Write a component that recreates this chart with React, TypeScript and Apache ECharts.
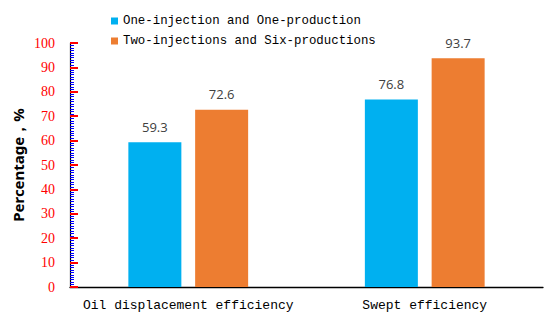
import React, { useEffect, useRef } from "react";
import * as echarts from "echarts";

const categories = ["Oil displacement efficiency", "Swept efficiency"];
const seriesNames = ["One-injection and One-production", "Two-injections and Six-productions"];
const oneInjection = [59.3, 76.8];
const twoInjections = [72.6, 93.7];
const colors = ["#00B0F0", "#ED7D31"];
const yTitle = "Percentage，%";

const MONO = "Liberation Mono";
const SERIF = "Liberation Serif";
const SANS = "Open Sans";

export default function App() {
  const ref = useRef<HTMLDivElement>(null);
  useEffect(() => {
    if (!ref.current) return;
    const chart = echarts.init(ref.current, null, { renderer: "svg" });
    const labelStyle = {
      show: true,
      position: "top" as const,
      distance: 9,
      color: "#404040",
      fontFamily: SANS,
      fontSize: 13,
    };
    chart.setOption({
      animation: false,
      legend: {
        orient: "vertical",
        left: 106,
        top: 9,
        itemWidth: 7,
        itemHeight: 7,
        itemGap: 6,
        icon: "rect",
        textStyle: {
          fontFamily: MONO,
          fontSize: 12.4,
          color: "#000",
          lineHeight: 14,
        },
        data: seriesNames,
      },
      grid: { left: 70, right: 7, top: 43, bottom: 35 },
      graphic: [
        {
          type: "text",
          x: 18,
          y: 165,
          rotation: Math.PI / 2,
          style: {
            text: yTitle,
            fill: "#000",
            fontSize: 15,
            fontWeight: "bold",
            fontFamily: "Noto Sans",
            align: "center",
            verticalAlign: "middle",
          },
        },
      ],
      xAxis: {
        type: "category",
        data: categories,
        axisLine: { lineStyle: { color: "#000", width: 1.3 } },
        axisTick: { show: false },
        axisLabel: {
          interval: 0,
          margin: 12,
          fontFamily: MONO,
          fontSize: 13,
          color: "#000",
        },
      },
      yAxis: {
        type: "value",
        min: 0,
        max: 100,
        interval: 10,
        splitLine: { show: true, lineStyle: { opacity: 0 } },
        axisLine: { show: true, lineStyle: { color: "#000", width: 1.2 } },
        axisTick: { show: true, inside: true, length: 8, lineStyle: { color: "#ff0000", width: 2 } },
        minorTick: { show: true, splitNumber: 10, length: 4, lineStyle: { color: "#0000ff", width: 1 } },
        axisLabel: {
          showMinLabel: true,
          showMaxLabel: true,
          margin: 15,
          fontFamily: SERIF,
          fontSize: 14,
          color: "#ff0000",
        },
      },
      series: [
        {
          name: seriesNames[0],
          type: "bar",
          data: oneInjection,
          barWidth: 53,
          barGap: "26%",
          itemStyle: { color: colors[0] },
          label: labelStyle,
        },
        {
          name: seriesNames[1],
          type: "bar",
          data: twoInjections,
          barWidth: 53,
          barGap: "26%",
          itemStyle: { color: colors[1] },
          label: labelStyle,
        },
      ],
    });
    return () => chart.dispose();
  }, []);
  return <div ref={ref} style={{ width: 550, height: 322, position: "absolute", left: 0, top: 0 }} />;
}
